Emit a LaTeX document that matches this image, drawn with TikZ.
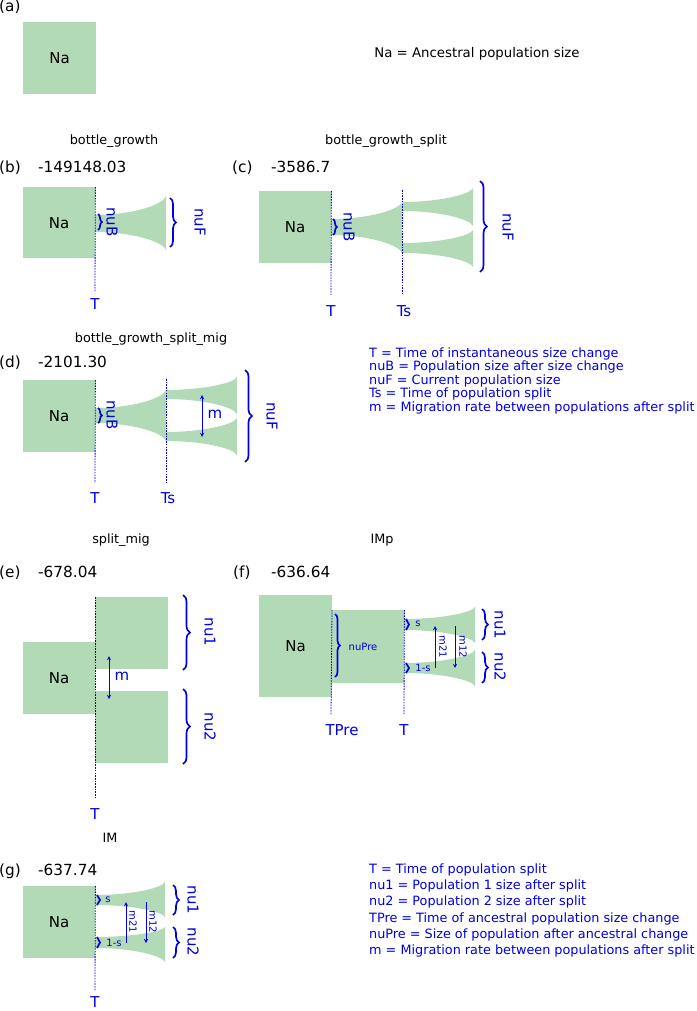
\documentclass[tikz,border=0pt]{standalone}
\usepackage{fontspec}
\setmainfont{DejaVu Sans}
\usepackage{tikz}
\usetikzlibrary{arrows,decorations.pathreplacing}
\definecolor{popgreen}{RGB}{179,218,182}
\definecolor{parblue}{RGB}{0,0,225}
\tikzstyle{poprect} = [fill=popgreen, draw=none, inner sep=0pt, font=\fontsize{15}{18}\selectfont]
\tikzstyle{popfill} = [fill=popgreen]
\tikzstyle{ttl} = [inner sep=0pt, anchor=base, font=\fontsize{12.8}{15}\selectfont]
\tikzstyle{scorelbl} = [inner sep=0pt, anchor=base west, font=\fontsize{15.3}{18}\selectfont]
\tikzstyle{parlbl} = [inner sep=0pt, text=parblue, font=\fontsize{15}{18}\selectfont]
\tikzstyle{smallpar} = [inner sep=0pt, text=parblue, font=\fontsize{10}{12}\selectfont]
\tikzstyle{leg} = [inner sep=0pt, text=parblue, anchor=base west, font=\fontsize{12.8}{15}\selectfont]
\tikzstyle{tline} = [color=parblue, line width=0.8pt, dash pattern=on 1.6pt off 1.1pt]
\tikzstyle{brc} = [draw=parblue, line width=1.7pt, decorate, decoration={brace, amplitude=#1}]
\tikzstyle{mig} = [color=parblue, line width=0.9pt, >=stealth]
% flared population: x0 x1 top0 bot0 top1 bot1
\newcommand{\popflare}[6]{%
  \pgfmathsetmacro{\flA}{#1+0.5*(#2-#1)}
  \pgfmathsetmacro{\flB}{#2-0.05*(#2-#1)}
  \pgfmathsetmacro{\flC}{#3+0.5*(#5-#3)}
  \pgfmathsetmacro{\flD}{#4+0.5*(#6-#4)}
  \fill[popfill] (#1,#3) .. controls (\flA,#3) and (\flB,\flC) .. (#2,#5) -- (#2,#6)
    .. controls (\flB,\flD) and (\flA,#4) .. (#1,#4) -- cycle;
}
\begin{document}
\begin{tikzpicture}[x=1pt,y=-1pt]
\useasboundingbox (0,0) rectangle (696,1011);
% (a)
\node[scorelbl] (labA) at (-1,11.5) {(a)};
\node[poprect, anchor=north west, minimum width=73pt, minimum height=72pt] (naA) at (23,22) {Na};
\node[inner sep=0pt, anchor=base, font=\fontsize{13.3}{15}\selectfont] (legNa) at (477,58) {Na = Ancestral population size};
% (b) bottle_growth
\node[ttl] (ttlB) at (114,145) {bottle\_growth};
\node[scorelbl] (labB) at (-1,172.5) {(b)};
\node[scorelbl] (scoB) at (38,172.5) {-149148.03};
\popflare{95}{166}{215}{232}{196}{250}
\node[poprect, anchor=north west, minimum width=72pt, minimum height=71pt] (naB) at (23,187) {Na};
\coordinate (tB) at (95,292);
\draw[tline] (naB.north east) -- (tB);
\node[parlbl, anchor=base] (tlabB) at (95,309) {T};
\draw[brc=4] (98,214) -- (98,230);
\node[parlbl, rotate=-90] (nuBb) at (112,222) {nuB};
\draw[brc=6] (170,198) -- (170,247);
\node[parlbl, rotate=-90] (nuFb) at (200,222) {nuF};
% (c) bottle_growth_split
\node[ttl] (ttlC) at (386,145) {bottle\_growth\_split};
\node[scorelbl] (labC) at (232,172.5) {(c)};
\node[scorelbl] (scoC) at (271,172.5) {-3586.7};
\popflare{331}{402}{219}{235}{202}{253}
\popflare{402}{473}{202}{211}{188}{226}
\popflare{402}{473}{243}{253}{230}{267}
\node[poprect, anchor=north west, minimum width=72pt, minimum height=72pt] (naC) at (259,191) {Na};
\coordinate (tC) at (331,295);
\coordinate (tsTopC) at (402,190);
\coordinate (tsC) at (402,295);
\draw[tline] (naC.north east) -- (tC);
\draw[tline] (tsTopC) -- (tsC);
\node[parlbl, anchor=base] (tlabC) at (331,316) {T};
\node[parlbl, anchor=base] (tslabC) at (404,316) {Ts};
\draw[brc=4] (333,219) -- (333,235);
\node[parlbl, rotate=-90] (nuBc) at (349,227) {nuB};
\draw[brc=7] (480,181) -- (480,272);
\node[parlbl, rotate=-90] (nuFc) at (508,227) {nuF};
% (d) bottle_growth_split_mig
\node[ttl] (ttlD) at (151,342) {bottle\_growth\_split\_mig};
\node[scorelbl] (labD) at (-1,367) {(d)};
\node[scorelbl] (scoD) at (38,367) {-2101.30};
\popflare{95}{166}{408}{423}{390}{441}
\popflare{166}{237}{390}{399}{377}{414}
\popflare{166}{237}{432}{441}{418}{455}
\node[poprect, anchor=north west, minimum width=72pt, minimum height=72pt] (naD) at (23,380) {Na};
\coordinate (tD) at (95,483);
\coordinate (tsTopD) at (166,379);
\coordinate (tsD) at (166,483);
\draw[tline] (naD.north east) -- (tD);
\draw[tline] (tsTopD) -- (tsD);
\node[parlbl, anchor=base] (tlabD) at (95,503) {T};
\node[parlbl, anchor=base] (tslabD) at (168,503) {Ts};
\draw[brc=4] (98,408) -- (98,423);
\node[parlbl, rotate=-90] (nuBd) at (112,415) {nuB};
\coordinate (mTopD) at (202,395);
\coordinate (mBotD) at (202,437);
\draw[mig,<->] (mTopD) -- (mBotD);
\node[parlbl] (mD) at (215,414) {m};
\draw[brc=7] (245,370) -- (245,462);
\node[parlbl, rotate=-90] (nuFd) at (272,416) {nuF};
% legend 1
\node[leg] (legA1) at (369,357) {T = Time of instantaneous size change};
\node[leg] (legA2) at (369,370.6) {nuB = Population size after size change};
\node[leg] (legA3) at (369,384.2) {nuF = Current population size};
\node[leg] (legA4) at (369,397.8) {Ts = Time of population split};
\node[leg] (legA5) at (369,411.4) {m = Migration rate between populations after split};
% (e) split_mig
\node[ttl] (ttlE) at (121,543.5) {split\_mig};
\node[scorelbl] (labE) at (-1,577) {(e)};
\node[scorelbl] (scoE) at (38,577) {-678.04};
\node[poprect, anchor=north west, minimum width=72pt, minimum height=72pt] (naE) at (23,642) {Na};
\node[poprect, anchor=north west, minimum width=73pt, minimum height=72pt] (nuOneE) at (95,597) {};
\node[poprect, anchor=north west, minimum width=73pt, minimum height=72pt] (nuTwoE) at (95,691) {};
\coordinate (tE) at (95,798);
\draw[tline] (nuOneE.north west) -- (tE);
\node[parlbl, anchor=base] (tlabE) at (95,819) {T};
\coordinate (mTopE) at (109,656);
\coordinate (mBotE) at (109,699);
\draw[mig,<->] (mTopE) -- (mBotE);
\node[parlbl] (mE) at (122,676) {m};
\draw[brc=7] (183,595) -- (183,670);
\node[parlbl, rotate=-90] (nu1e) at (210,632) {nu1};
\draw[brc=7] (183,689) -- (183,764);
\node[parlbl, rotate=-90] (nu2e) at (210,727) {nu2};
% (f) IMp
\node[ttl] (ttlF) at (382,543.5) {IMp};
\node[scorelbl] (labF) at (233,577) {(f)};
\node[scorelbl] (scoF) at (271,577) {-636.64};
\popflare{404}{475}{619}{630}{607}{643}
\popflare{404}{475}{663}{673}{650}{686}
\node[poprect, anchor=north west, minimum width=73pt, minimum height=102pt] (naF) at (259,595) {Na};
\node[poprect, anchor=north west, minimum width=72pt, minimum height=73pt] (nuPreF) at (332,610) {};
\coordinate (tpreF) at (331,715);
\coordinate (tF) at (404,715);
\draw[tline] (nuPreF.north west) -- (tpreF);
\draw[tline] (nuPreF.north east) -- (tF);
\node[parlbl, anchor=base] (tprelabF) at (342,735) {TPre};
\node[parlbl, anchor=base] (tlabF) at (404,735) {T};
\draw[brc=5] (335,614) -- (335,677);
\node[smallpar] (nuPreLab) at (363,647) {nuPre};
\draw[brc=3] (406,619) -- (406,630);
\node[smallpar] (sF) at (418,624) {s};
\draw[brc=3] (406,663) -- (406,673);
\node[smallpar] (oneSF) at (423,668) {1-s};
\coordinate (m21botF) at (435,668);
\coordinate (m21topF) at (435,626);
\draw[mig,->] (m21botF) -- (m21topF);
\node[smallpar, rotate=-90] (m21F) at (443,647) {m21};
\coordinate (m12topF) at (455,626);
\coordinate (m12botF) at (455,668);
\draw[mig,->] (m12topF) -- (m12botF);
\node[smallpar, rotate=-90] (m12F) at (463,647) {m12};
\draw[brc=6] (482,609) -- (482,640);
\node[parlbl, rotate=-90] (nu1f) at (500,625) {nu1};
\draw[brc=6] (482,652) -- (482,683);
\node[parlbl, rotate=-90] (nu2f) at (500,667) {nu2};
% (g) IM
\node[ttl] (ttlG) at (110,842) {IM};
\node[scorelbl] (labG) at (-1,875) {(g)};
\node[scorelbl] (scoG) at (38,875) {-637.74};
\popflare{95}{165}{895}{905}{882}{917}
\popflare{95}{165}{937}{948}{927}{962}
\node[poprect, anchor=north west, minimum width=72pt, minimum height=72pt] (naG) at (23,886) {Na};
\coordinate (tG) at (95,991);
\draw[tline] (naG.north east) -- (tG);
\node[parlbl, anchor=base] (tlabG) at (95,1007) {T};
\draw[brc=3] (97,895) -- (97,905);
\node[smallpar] (sG) at (108,900) {s};
\draw[brc=3] (97,937) -- (97,948);
\node[smallpar] (oneSG) at (114,943) {1-s};
\coordinate (m21botG) at (126,943);
\coordinate (m21topG) at (126,902);
\draw[mig,->] (m21botG) -- (m21topG);
\node[smallpar, rotate=-90] (m21G) at (133,922) {m21};
\coordinate (m12topG) at (146,902);
\coordinate (m12botG) at (146,943);
\draw[mig,->] (m12topG) -- (m12botG);
\node[smallpar, rotate=-90] (m12G) at (153,922) {m12};
\draw[brc=6] (173,885) -- (173,915);
\node[parlbl, rotate=-90] (nu1g) at (193,900) {nu1};
\draw[brc=6] (173,927) -- (173,958);
\node[parlbl, rotate=-90] (nu2g) at (193,942) {nu2};
% legend 2
\node[leg] (legB1) at (369,873.3) {T = Time of population split};
\node[leg] (legB2) at (369,889.6) {nu1 = Population 1 size after split};
\node[leg] (legB3) at (369,905.9) {nu2 = Population 2 size after split};
\node[leg] (legB4) at (369,922.2) {TPre = Time of ancestral population size change};
\node[leg] (legB5) at (369,938.5) {nuPre = Size of population after ancestral change};
\node[leg] (legB6) at (369,954.8) {m = Migration rate between populations after split};
\end{tikzpicture}
\end{document}
